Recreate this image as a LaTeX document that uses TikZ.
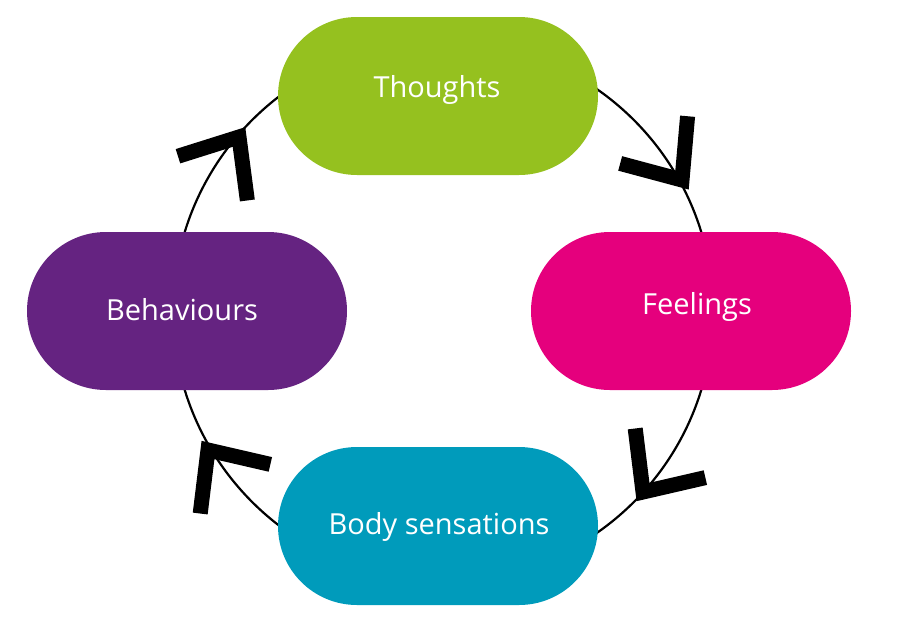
\documentclass[tikz,border=0pt]{standalone}
\usepackage{fontspec}
\setmainfont{Open Sans}
\usetikzlibrary{calc}
\definecolor{cThought}{HTML}{95C11F}
\definecolor{cFeel}{HTML}{E5007D}
\definecolor{cBody}{HTML}{009BBB}
\definecolor{cBehav}{HTML}{652381}
\begin{document}
\begin{tikzpicture}[x=1pt,y=1pt,
  pill/.style={fill=#1, draw=none, rounded corners=79pt, minimum width=320pt, minimum height=158pt, inner sep=0pt},
  lbl/.style={text=white, font=\fontsize{29}{33}\selectfont, inner sep=0pt},
  chev/.style={line width=15pt, miter limit=10, line join=miter, line cap=butt}]
\useasboundingbox (0,0) rectangle (904,-640);
\coordinate (c) at (443,-311);
\draw[line width=2.2pt] (c) circle (270);
\node[pill=cThought] (thoughts) at (438,-96) {};
\node[pill=cFeel] (feelings) at (691,-311) {};
\node[pill=cBody] (body) at (438,-526) {};
\node[pill=cBehav] (behav) at (187,-311) {};
\node[lbl] (tThoughts) at (437,-90) {Thoughts};
\node[lbl] (tFeel) at (697,-307) {Feelings};
\node[lbl] (tBody) at (439,-527) {Body sensations};
\node[lbl] (tBehav) at (182,-310) {Behaviours};
% chevrons
\coordinate (a1) at (239,-137);
\coordinate (a2) at (682,-180);
\coordinate (a3) at (643,-492);
\coordinate (a4) at (208,-450);
\draw[chev] ($(a1)+(57.5+180+40:64)$) -- (a1) -- ($(a1)+(57.5+180-40:64)$);
\draw[chev] ($(a2)+(-55+180+40:64)$) -- (a2) -- ($(a2)+(-55+180-40:64)$);
\draw[chev] ($(a3)+(-125+180+42:64)$) -- (a3) -- ($(a3)+(-125+180-42:64)$);
\draw[chev] ($(a4)+(125+180+42:64)$) -- (a4) -- ($(a4)+(125+180-42:64)$);
\end{tikzpicture}
\end{document}
